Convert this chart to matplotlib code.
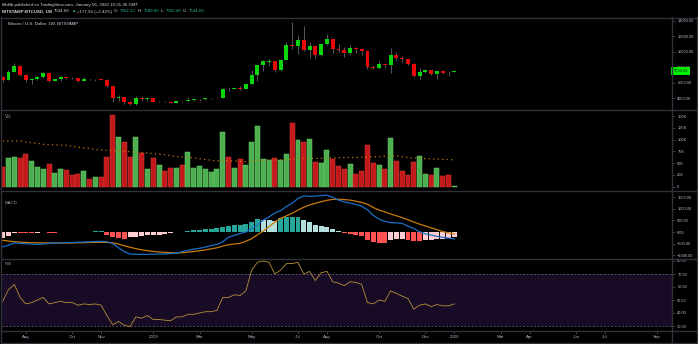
import matplotlib
matplotlib.use('Agg')
import matplotlib.pyplot as plt
import matplotlib.transforms as mtransforms
from matplotlib.lines import Line2D
import numpy as np
import pandas as pd

# ---------------- data ----------------
start_week = '2018-07-09'
opens  = [6740,6350,7400,8220,7030,6300,6480,6700,7270,6230,6500,6700,6620,6580,6290,6470,6440,6470,6370,5600,
          3980,4160,3540,3220,4000,3880,4040,3540,3560,3530,3420,3650,3610,3810,3860,3910,3980,4000,4100,5240,
          5220,5300,5250,5780,7000,8250,8740,8780,7640,8980,10880,10800,11480,10200,10700,9600,11000,11600,10400,10250,
          9780,10450,10350,10050,8050,7870,8380,8230,9560,9250,9030,8450,6900,7430,7600,7130,7520,7420,7352.12]
highs  = [6820,7700,8500,8270,7150,6600,6850,7420,7410,6550,6850,6800,6700,6650,6800,6550,6520,6600,6500,5640,
          4420,4200,3610,4240,4240,4100,4100,3700,3640,3560,3700,3690,4200,3920,3950,4050,4100,4120,5350,5460,
          5400,5620,5850,7650,8350,8950,9080,8830,9100,11250,13880,12150,13300,11250,10750,11100,12300,11650,10950,10600,
          10920,10550,10380,10090,8320,8800,8420,10450,9950,9480,9100,8500,7850,7800,7650,7550,7700,7560,7580]
lows   = [6100,6330,7400,6900,6060,5880,6300,6650,6120,6200,6250,6450,6450,6150,6270,6400,6250,6330,5500,3500,
          3600,3300,3130,3200,3600,3650,3500,3500,3460,3380,3360,3570,3600,3700,3700,3800,3950,3980,4090,5000,
          5180,5050,5250,5750,6220,7500,8100,7450,7500,8950,10300,9650,10080,9150,9200,9450,10900,9850,9950,9350,
          9600,9900,9600,7750,7750,7780,7900,7300,8950,8700,8350,6800,6550,7230,7000,6450,7100,6870,7342.46]
closes = [6350,7400,8220,7030,6300,6480,6700,7270,6230,6500,6700,6620,6580,6290,6470,6440,6470,6380,5600,4000,
          4160,3500,3220,4000,3880,4040,3560,3560,3530,3420,3650,3610,3810,3860,3910,3980,4000,4100,5200,5220,
          5300,5250,5780,7000,8250,8750,8780,7640,8980,10850,10800,11480,10200,10700,9600,11000,11600,10350,10250,9780,
          10480,10350,10050,8050,7870,8380,8230,9560,9250,9030,8450,6900,7420,7600,7120,7510,7300,7352.12,7534.66]
volume_k = [41,61,63.5,61,68.6,55,41,38,48,29,37,35,24,27.5,32.6,15.6,20,20,64,152.5,
            106,95,63,105,71,37,60,47,34,40,39,45,73.5,39,44,37,32,37,116,63,
            40,59,46.6,94.7,129,58,56.6,60,56.6,70,136,99,95,101,52,49.6,77.8,58,44,37,
            48,28,33,88,49.6,45,37.5,103,53.8,32.6,25.4,51.7,65.7,26.3,24,39,22.7,24,1.5]
volume_ma_k = [97,97,97,97,95,93,92,90,89,89,88,88,86,84,82,81,79,78,77,77,
               76,75,74,73,72,72,70,69,68,66,64,63,62,61,59.5,58,56,55,55,55,
               54.5,54,53,55,56,56,56.6,56.6,57,57,58,59,60,60,60,60,61,61,61.4,62,
               62,62,62.5,63,63.5,63.6,64.5,65.7,65,63.6,62,61,60,59.5,59,58.5,58,57.5,57]
macd_line = [-640,-570,-470,-490,-506,-525,-535,-515,-490,-480,-470,-460,-455,-445,-433,-425,-412,-405,-420,-500,
             -680,-850,-950,-965,-968,-967,-960,-955,-950,-935,-910,-850,-790,-740,-705,-650,-590,-535,-420,-230,
             -140,-70,0,150,300,520,650,820,920,1100,1250,1450,1560,1540,1550,1570,1590,1500,1380,1300,
             1250,1190,1110,960,720,560,460,405,395,370,250,160,10,-80,-130,-190,-230,-265,-300]
signal_line = [-360,-390,-420,-440,-452,-462,-468,-472,-475,-476,-476,-476,-472,-466,-460,-453,-447,-445,-448,-470,
               -520,-600,-660,-720,-770,-808,-840,-865,-882,-897,-910,-895,-870,-840,-810,-775,-730,-680,-610,-550,
               -520,-490,-400,-290,-120,40,230,430,590,700,810,950,1070,1170,1240,1310,1370,1410,1415,1400,
               1380,1330,1280,1200,1060,950,870,780,700,620,530,430,340,260,180,100,20,-40,-85]
macd_hist = [-273,-160,-40,-45,-50,-55,-35,-20,-22,-25,-12,5,8,10,14,18,22,28,-110,-200,
             -245,-290,-220,-200,-170,-150,-130,-110,-90,-60,-20,10,40,70,90,110,140,170,220,260,
             290,300,330,446,560,540,500,490,600,640,650,660,520,440,290,245,215,130,30,-45,
             -85,-115,-170,-330,-430,-460,-470,-360,-315,-290,-330,-400,-405,-360,-330,-310,-290,-260,-215]
rsi = [49,58,62,52,47,48,50,52,47,48,49,48,48,46,47,46.5,47,46,38,31,
       33.5,30.5,29.5,37,36,38,35,35,34.5,34,37,37,39,39,40,41,41,42,52,52,
       54,53.5,57,73,79,80,79,70,73,78,78,79,70,72,65,71,72,64,63,61,
       64,63.5,62,48,47,50,49,57,55,53,51,43,46,47,45,46.5,45.5,45.5,47]
time_label_months = ['2018-08','2018-10','2018-11','2019-01','2019-03','2019-05','2019-07','2019-08',
                     '2019-10','2019-12','2020-01','2020-03','2020-04','2020-06','2020-07','2020-09']
time_labels = ['Aug','Oct','Nov','2019','Mar','May','Jul','Aug','Oct','Dec','2020','Mar','Apr','Jun','Jul','Sep']
price_ticks = [4000,6000,8000,10000,12000,14000]
vol_ticks = [0,25,50,75,100,125,150]
vol_tick_labels = ['0','25K','50K','75K','100K','125K','150K']
macd_ticks = [-1000,-500,0,500,1000,1500]
rsi_ticks = [30,40,50,60,70,80]
header1 = 'filbfilb published on TradingView.com, January 06, 2020 10:31:36 GMT'
symbol_title = 'Bitcoin / U.S. Dollar, 1W, BITSTAMP'

n = len(closes)
for arr in (opens, highs, lows, volume_k, volume_ma_k, macd_line, signal_line, macd_hist, rsi):
    assert len(arr) == n, len(arr)

# ---------------- layout ----------------
W, H = 698, 344
plt.rcParams['font.family'] = ['Liberation Sans', 'DejaVu Sans']
fig = plt.figure(figsize=(W / 100, H / 100), dpi=100, facecolor='black')

def box(x0, y0, x1, y1):
    return [x0 / W, 1 - y1 / H, (x1 - x0) / W, (y1 - y0) / H]

def lims(v1, p1, v2, p2, top, bot):
    s = (p2 - p1) / (v2 - v1)
    f = lambda p: v1 + (p - p1) / s
    return f(bot), f(top)

X0, X1 = 2, 672
STEP, FIRST = 5.79, 2.7
xlim = ((X0 - FIRST) / STEP, (X1 - FIRST) / STEP)

ax_p = fig.add_axes(box(X0, 18, X1, 109))
ax_v = fig.add_axes(box(X0, 110, X1, 191))
ax_m = fig.add_axes(box(X0, 192, X1, 258))
ax_r = fig.add_axes(box(X0, 259, X1, 331))

LABEL_C = '#b2b5be'
TICK_C = '#50535e'
for ax in (ax_p, ax_v, ax_m, ax_r):
    ax.set_facecolor('black')
    for s in ax.spines.values():
        s.set_visible(False)
    ax.set_xlim(*xlim)
    ax.yaxis.tick_right()
    ax.tick_params(axis='y', colors=TICK_C, labelcolor=LABEL_C, labelsize=2.9,
                   length=2, width=0.5, pad=1.8)
    ax.tick_params(axis='x', bottom=False, labelbottom=False)

ax_p.set_ylim(*lims(4000, 98.3, 14000, 20.7, 18, 109))
ax_v.set_ylim(*lims(0, 186.7, 150, 116, 110, 191))
ax_m.set_ylim(*lims(0, 232, 1500, 197.3, 192, 258))
ax_r.set_ylim(*lims(30, 326, 80, 261, 259, 331))

x = np.arange(n)
o = np.array(opens); c = np.array(closes); hi = np.array(highs); lo = np.array(lows)
up = c >= o

# ---- candles ----
GREEN, RED, WICK = '#0cd40c', '#e80808', '#55575f'
ax_p.vlines(x, lo, hi, color=WICK, lw=0.7, zorder=2)
body_bottom = np.minimum(o, c)
body_h = np.maximum(np.abs(c - o), 25)
ax_p.bar(x, body_h, bottom=body_bottom, width=0.68,
         color=[GREEN if u else RED for u in up], linewidth=0, zorder=3)
ax_p.set_yticks(price_ticks)
ax_p.set_yticklabels([f'{v:.2f}' for v in price_ticks])
trans = mtransforms.blended_transform_factory(ax_p.transAxes, ax_p.transData)
ax_p.text(1.0 + 1.5 / 670, closes[-1], f'{closes[-1]:.2f}', transform=trans, fontsize=2.9,
          color='#0a2a0a', ha='left', va='center', clip_on=False, zorder=10,
          bbox=dict(boxstyle='square,pad=0.55', fc='#00f000', ec='none'))
ax_p.text(6 / 670, 0.935, symbol_title, transform=ax_p.transAxes, fontsize=3.2,
          color='#d1d4dc', ha='left', va='center')

# ---- volume ----
vg_f, vg_e = '#4caf50', '#6ccf6c'
vr_f, vr_e = '#c21a1a', '#d83a3a'
ax_v.bar(x, volume_k, width=0.86, color=[vg_f if u else vr_f for u in up],
         edgecolor=[vg_e if u else vr_e for u in up], linewidth=0.35, zorder=2)
ax_v.plot(x, volume_ma_k, color='#c8740a', lw=0.9, ls=(0, (1.0, 2.6)), zorder=3)
ax_v.set_yticks(vol_ticks)
ax_v.set_yticklabels(vol_tick_labels)
ax_v.text(3 / 670, 0.92, 'Vol', transform=ax_v.transAxes, fontsize=3.3,
          color='#9598a1', ha='left', va='center')

# ---- MACD ----
hcols = []
for i, v in enumerate(macd_hist):
    prev = macd_hist[i - 1] if i > 0 else v - 1
    if v >= 0:
        hcols.append('#26a69a' if v > prev else '#b2dfdb')
    else:
        hcols.append('#ffcdd2' if v > prev else '#ff5252')
ax_m.bar(x, macd_hist, width=0.86, color=hcols, linewidth=0, zorder=2)
ax_m.plot(x, signal_line, color='#c97b0e', lw=0.9, zorder=3)
ax_m.plot(x, macd_line, color='#1a6fc6', lw=0.9, zorder=4)
ax_m.set_yticks(macd_ticks)
ax_m.set_yticklabels([f'{v:.2f}'.replace('-', '\u2212') for v in macd_ticks])
ax_m.text(3 / 670, 0.83, 'MACD', transform=ax_m.transAxes, fontsize=3.2,
          color='#9598a1', ha='left', va='center')

# ---- RSI ----
ax_r.axhspan(30, 70, color='#170b25', lw=0, zorder=0)
ax_r.axhline(70, color='#5f5f70', lw=0.6, ls=(0, (2.2, 2.2)), zorder=1)
ax_r.axhline(30, color='#5f5f70', lw=0.6, ls=(0, (2.2, 2.2)), zorder=1)
ax_r.plot(x, rsi, color='#b8913a', lw=0.6, zorder=3)
ax_r.set_yticks(rsi_ticks)
ax_r.set_yticklabels([f'{v:.2f}' for v in rsi_ticks])
ax_r.text(3 / 670, 0.93, 'RSI', transform=ax_r.transAxes, fontsize=3.2,
          color='#9598a1', ha='left', va='center')

# ---- time axis ----
weeks = pd.date_range(start_week, periods=120, freq='W-MON')
tick_pos = [int(np.argmax(weeks >= pd.Timestamp(m + '-01'))) for m in time_label_months]
ax_r.set_xticks(tick_pos)
ax_r.set_xticklabels(time_labels)
ax_r.tick_params(axis='x', bottom=True, labelbottom=True, colors=TICK_C, labelcolor=LABEL_C,
                 labelsize=3.2, length=2, width=0.5, pad=1.2, direction='out')

# ---- frame lines ----
FR = '#2f323b'
def hline(y, x0=1, x1=697, lw=1.0):
    fig.add_artist(Line2D([x0 / W, x1 / W], [1 - y / H, 1 - y / H], color=FR, lw=lw))
def vline(xp, y0=17, y1=342, lw=1.0):
    fig.add_artist(Line2D([xp / W, xp / W], [1 - y0 / H, 1 - y1 / H], color=FR, lw=lw))
hline(17.5); hline(109.5); hline(191.3); hline(258.6); hline(331.2); hline(342.5)
vline(1.2); vline(672.3); vline(697.3)

# ---- header ----
fig.text(2 / W, 1 - 5 / H, header1, fontsize=3.2, color='#d1d4dc', ha='left', va='center')
WHITE, TEAL, UPC = '#d1d4dc', '#26b39a', '#26c281'
pieces = [('BITSTAMP:BTCUSD, 1W', WHITE), (f'{closes[-1]:.2f}', WHITE), ('\u25b2', UPC),
          ('+177.96 (+2.42%)', WHITE), ('O:', WHITE), (f'{opens[-1]:.2f}', TEAL),
          ('H:', WHITE), (f'{highs[-1]:.2f}', TEAL), ('L:', WHITE), (f'{lows[-1]:.2f}', TEAL),
          ('C:', WHITE), (f'{closes[-1]:.2f}', TEAL)]
renderer = fig.canvas.get_renderer()
xp = 2.0
for txt, col in pieces:
    t = fig.text(xp / W, 1 - 11.5 / H, txt, fontsize=3.2, color=col, ha='left', va='center',
                 fontweight='bold' if txt.startswith('BITSTAMP') else 'normal')
    bb = t.get_window_extent(renderer=renderer)
    xp += bb.width + 1.6

fig.savefig('out.png', dpi=100, facecolor='black')
